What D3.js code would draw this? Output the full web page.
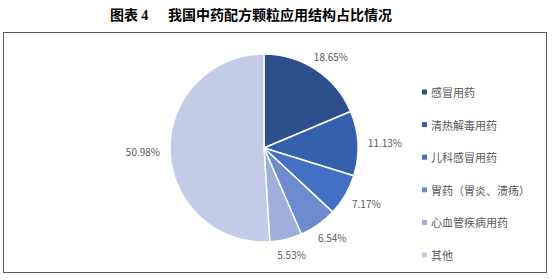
<!DOCTYPE html>
<html>
<head>
<meta charset="utf-8">
<script src="https://cdn.jsdelivr.net/npm/d3@7"></script>
<style>
  body { margin: 0; background: #fff; }
  text { font-family: "Noto Sans CJK SC", "Noto Sans", sans-serif; }
</style>
</head>
<body>
<svg id="chart" width="552" height="280"></svg>
<script>
const categories = ['感冒用药', '清热解毒用药', '儿科感冒用药', '胃药（胃炎、溃疡）', '心血管疾病用药', '其他'];
const shares = [18.65, 11.13, 7.17, 6.54, 5.53, 50.98];
const colors = ['#2e4f8e', '#3560ad', '#4270c3', '#6e8bd0', '#9eafdc', '#c2cbe7'];

const svg = d3.select('#chart');
const cx = 264, cy = 148, r = 94;

// title
const title = svg.append('text')
  .attr('x', 110).attr('y', 20)
  .attr('font-size', 14).attr('font-weight', 'bold').attr('fill', '#000');
title.append('tspan').text('图表 ');
title.append('tspan').attr('font-family', 'Liberation Serif, serif').text('4');
title.append('tspan').attr('x', 168).text('我国中药配方颗粒应用结构占比情况');

// frame
svg.append('rect')
  .attr('x', 3.5).attr('y', 32.5).attr('width', 543).attr('height', 240)
  .attr('fill', 'none').attr('stroke', '#595959').attr('stroke-width', 1);

const data = categories.map((c, i) => ({ name: c, value: shares[i], color: colors[i] }));
const pie = d3.pie().sort(null).value(d => d.value);
const arcs = pie(data);
const arc = d3.arc().innerRadius(0).outerRadius(r);

const g = svg.append('g').attr('transform', `translate(${cx},${cy})`);
g.selectAll('path')
  .data(arcs)
  .enter().append('path')
  .attr('d', arc)
  .attr('fill', d => d.data.color)
  .attr('stroke', '#fff')
  .attr('stroke-width', 1.5);

// outside-end labels
const lr = r + 10;
g.selectAll('text.lbl')
  .data(arcs)
  .enter().append('text')
  .attr('class', 'lbl')
  .attr('font-family', 'Open Sans, sans-serif')
  .attr('font-size', 10)
  .attr('fill', '#595959')
  .attr('text-anchor', 'middle')
  .attr('dominant-baseline', 'central')
  .text(d => d.data.value.toFixed(2) + '%')
  .each(function (d) {
    const a = (d.startAngle + d.endAngle) / 2;
    const w = this.getComputedTextLength();
    const x = lr * Math.sin(a) + (w / 2) * Math.sin(a);
    const y = -lr * Math.cos(a) - 6 * Math.cos(a);
    d3.select(this).attr('x', x).attr('y', y);
  });

// legend
const ly = d3.scalePoint().domain(categories).range([92, 255]);
const leg = svg.append('g');
const item = leg.selectAll('g')
  .data(data)
  .enter().append('g')
  .attr('transform', d => `translate(422,${ly(d.name)})`);
item.append('rect')
  .attr('x', 0).attr('y', -2.5).attr('width', 5).attr('height', 5)
  .attr('fill', d => d.color);
item.append('text')
  .attr('x', 9).attr('y', 0)
  .attr('dominant-baseline', 'central')
  .attr('font-size', 11)
  .attr('fill', '#595959')
  .text(d => d.name);
</script>
</body>
</html>
